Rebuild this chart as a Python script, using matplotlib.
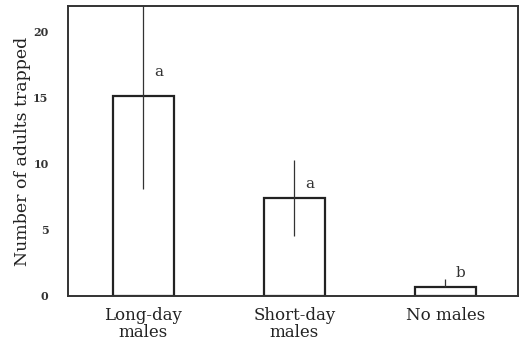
import matplotlib
matplotlib.use("Agg")
import matplotlib.pyplot as plt

categories = ["Long-day\nmales", "Short-day\nmales", "No males"]
means = [15.1, 7.4, 0.7]
err_low = [7.0, 2.9, 0.0]
err_high = [7.0, 2.9, 0.6]
letters = ["a", "a", "b"]
letter_y = [16.9, 8.45, 1.75]
yticks = [0, 5, 10, 15, 20]

plt.rcParams['font.family'] = ['DejaVu Serif']

fig = plt.figure(figsize=(5.25, 3.47), dpi=100)
ax = fig.add_axes([0.1295, 0.147, 0.857, 0.836])
x = list(range(len(categories)))
ax.bar(x, means, width=0.4, facecolor='white', edgecolor='#222222', linewidth=1.6)
ax.errorbar(x, means, yerr=[err_low, err_high], fmt='none', ecolor='#333333',
            elinewidth=0.9, capsize=0)
for xi, ly, lt in zip(x, letter_y, letters):
    ax.text(xi + 0.1, ly, lt, fontsize=11, ha='center', va='center', color='#333333')
ax.set_xlim(-0.5, 2.48)
ax.set_ylim(0, 21.9)
ax.set_yticks(yticks)
ax.set_yticklabels([str(v) for v in yticks], fontsize=8, fontweight='bold', color='#333333')
ax.set_xticks(x)
ax.set_xticklabels(categories, fontsize=12, linespacing=1.0, color='#222222')
ax.tick_params(axis='x', length=0, pad=8)
ax.tick_params(axis='y', length=0, pad=14)
ax.set_ylabel("Number of adults trapped", fontsize=12.5, color='#222222', labelpad=1.5)
for s in ax.spines.values():
    s.set_linewidth(1.4)
    s.set_color('#333333')
fig.savefig("out.png", dpi=100)
